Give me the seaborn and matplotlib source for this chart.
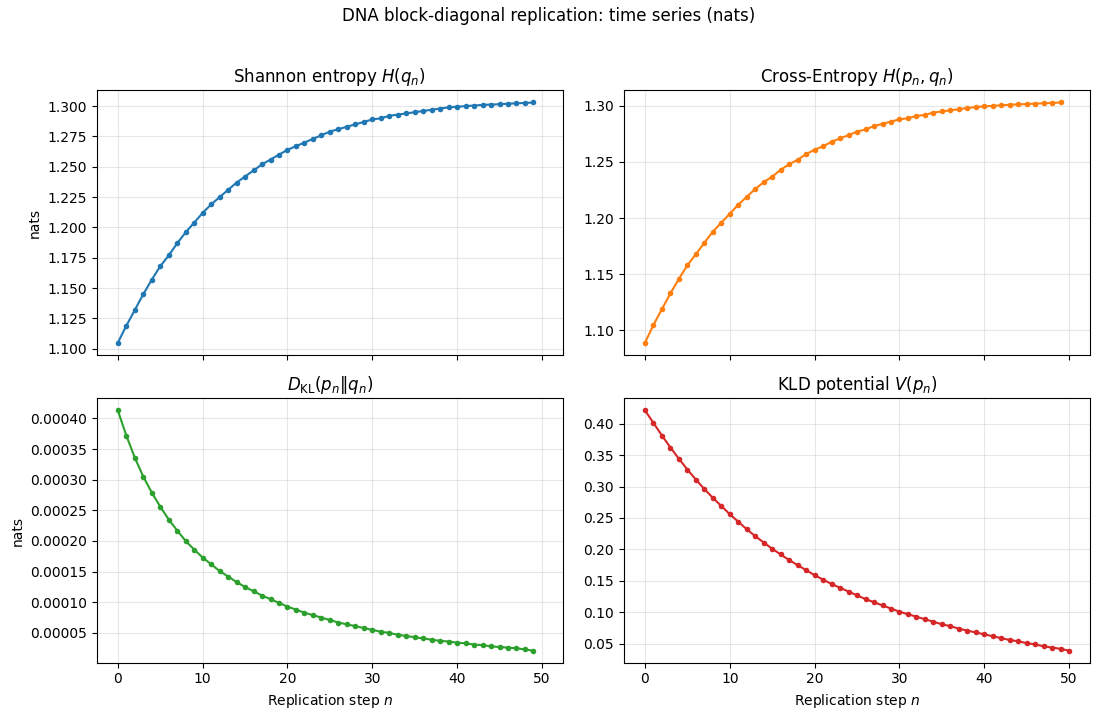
import matplotlib
matplotlib.use("Agg")
import matplotlib.pyplot as plt
import seaborn as sns

# values
shannon_H = [1.105, 1.119, 1.132, 1.145, 1.157, 1.168, 1.177, 1.187, 1.196, 1.204,
             1.212, 1.219, 1.225, 1.231, 1.237, 1.242, 1.247, 1.252, 1.256, 1.260,
             1.264, 1.267, 1.270, 1.273, 1.276, 1.279, 1.281, 1.283, 1.285, 1.287,
             1.289, 1.290, 1.292, 1.293, 1.294, 1.295, 1.296, 1.297, 1.298, 1.299,
             1.2995, 1.300, 1.3005, 1.301, 1.3013, 1.3016, 1.302, 1.3023, 1.3026, 1.303]

cross_H = [1.089, 1.105, 1.119, 1.133, 1.146, 1.158, 1.168, 1.178, 1.188, 1.196,
           1.204, 1.212, 1.219, 1.226, 1.232, 1.237, 1.243, 1.248, 1.252, 1.257,
           1.261, 1.264, 1.268, 1.271, 1.274, 1.277, 1.279, 1.282, 1.284, 1.286,
           1.288, 1.289, 1.291, 1.292, 1.294, 1.295, 1.296, 1.297, 1.298, 1.299,
           1.2995, 1.300, 1.3005, 1.301, 1.3013, 1.3016, 1.302, 1.3023, 1.3026, 1.303]

kl_div = [0.000413, 0.000372, 0.000336, 0.000305, 0.000279, 0.000256, 0.000235, 0.000217, 0.000200, 0.000186,
          0.000173, 0.000162, 0.000151, 0.000142, 0.000133, 0.000125, 0.000118, 0.000111, 0.000105, 0.000099,
          0.000093, 0.000088, 0.000083, 0.000079, 0.000075, 0.000071, 0.000067, 0.000064, 0.000061, 0.000058,
          0.000055, 0.000052, 0.000050, 0.000047, 0.000045, 0.000043, 0.000041, 0.000039, 0.000037, 0.000036,
          0.000034, 0.000033, 0.000031, 0.000030, 0.000028, 0.000027, 0.000026, 0.000025, 0.000023, 0.000021]

kld_V = [0.421, 0.401, 0.381, 0.362, 0.344, 0.327, 0.311, 0.296, 0.282, 0.269,
         0.256, 0.244, 0.232, 0.221, 0.211, 0.201, 0.192, 0.183, 0.175, 0.167,
         0.159, 0.152, 0.145, 0.139, 0.133, 0.127, 0.121, 0.116, 0.111, 0.106,
         0.101, 0.097, 0.093, 0.089, 0.085, 0.081, 0.078, 0.074, 0.071, 0.068,
         0.065, 0.062, 0.059, 0.056, 0.054, 0.051, 0.049, 0.046, 0.044, 0.042,
         0.039]

panels = [
    (shannon_H, r"Shannon entropy $H(q_n)$", "C0"),
    (cross_H, r"Cross-Entropy $H(p_n, q_n)$", "C1"),
    (kl_div, r"$D_{\mathrm{KL}}(p_n \| q_n)$", "C2"),
    (kld_V, r"KLD potential $V(p_n)$", "C3"),
]

fig, axes = plt.subplots(2, 2, figsize=(10.98, 7.18), dpi=100, sharex=True)
axes = axes.flatten()

for i, (vals, title, color) in enumerate(panels):
    ax = axes[i]
    steps = list(range(len(vals)))
    sns.lineplot(x=steps, y=vals, ax=ax, color=color, marker="o",
                 markersize=4, markeredgewidth=0, linewidth=1.5)
    ax.set_title(title, fontsize=12)
    ax.grid(True, alpha=0.3)
    if i % 2 == 0:
        ax.set_ylabel("nats")
    if i >= 2:
        ax.set_xlabel("Replication step $n$")

fig.suptitle("DNA block-diagonal replication: time series (nats)", fontsize=12, y=0.99)
fig.subplots_adjust(left=0.088, right=0.993, top=0.874, bottom=0.077,
                    wspace=0.13, hspace=0.165)
fig.savefig("out.png", dpi=100)
